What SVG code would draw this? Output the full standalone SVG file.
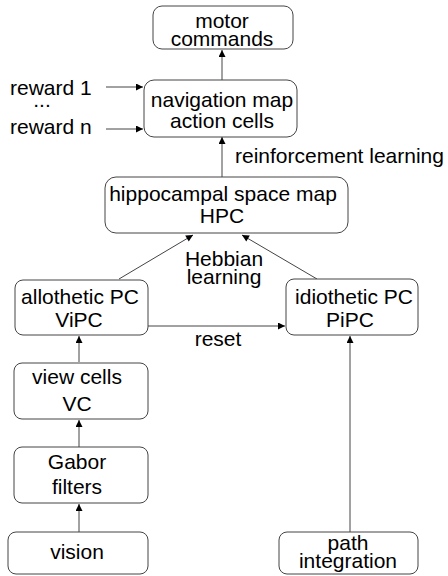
<svg xmlns="http://www.w3.org/2000/svg" width="448" height="576" viewBox="0 0 448 576">
<style>
.box{fill:#fff;stroke:#444;stroke-width:1}
.t{font-family:"Liberation Sans",Arial,sans-serif;font-size:21px;fill:#000;text-anchor:middle}
.tl{font-family:"Liberation Sans",Arial,sans-serif;font-size:21px;fill:#000}
.c{stroke:#444;stroke-width:1;fill:none;marker-end:url(#ah)}
</style>
<defs>
<marker id="ah" viewBox="0 0 10 10" refX="10" refY="5" markerWidth="9" markerHeight="7" markerUnits="userSpaceOnUse" orient="auto">
<path d="M0,0 L10,5 L0,10 z" fill="#000"/>
</marker>
</defs>
<rect width="448" height="576" fill="#fff"/>
<g id="connectors">
<line class="c" x1="222" y1="80" x2="222" y2="50"/>
<line class="c" x1="222" y1="177" x2="222" y2="137"/>
<line class="c" x1="106" y1="87" x2="143" y2="87"/>
<line class="c" x1="106" y1="129" x2="143" y2="129"/>
<line class="c" x1="119" y1="279" x2="193" y2="235"/>
<line class="c" x1="317" y1="279" x2="242" y2="235"/>
<line class="c" x1="148" y1="326" x2="285" y2="326"/>
<line class="c" x1="79" y1="362" x2="79" y2="336"/>
<line class="c" x1="79" y1="447" x2="79" y2="420"/>
<line class="c" x1="79" y1="532" x2="79" y2="504"/>
<line class="c" x1="350" y1="532" x2="350" y2="336"/>
</g>
<g id="labels">
<text class="tl" x="235" y="163">reinforcement learning</text>
<text class="t" x="224" y="266">Hebbian</text>
<text class="t" x="224" y="284">learning</text>
<text class="t" x="218" y="346">reset</text>
<text class="tl" x="10" y="95">reward 1</text>
<text class="t" x="42" y="107">...</text>
<text class="tl" x="10" y="134">reward n</text>
</g>
<g id="motor">
<rect class="box" x="153" y="6" width="140" height="43" rx="9"/>
<text class="t" x="222" y="28">motor</text>
<text class="t" x="222" y="46">commands</text>
</g>
<g id="navigation">
<rect class="box" x="144" y="80" width="153" height="57" rx="10"/>
<text class="t" x="222" y="107">navigation map</text>
<text class="t" x="222" y="128">action cells</text>
</g>
<g id="hpc">
<rect class="box" x="105" y="177" width="243" height="56" rx="11"/>
<text class="t" x="223" y="201">hippocampal space map</text>
<text class="t" x="222" y="223">HPC</text>
</g>
<g id="vipc">
<rect class="box" x="15" y="280" width="133" height="55" rx="8"/>
<text class="t" x="80" y="304">allothetic PC</text>
<text class="t" x="79" y="327">ViPC</text>
</g>
<g id="pipc">
<rect class="box" x="286" y="279" width="132" height="56" rx="8"/>
<text class="t" x="354" y="304">idiothetic PC</text>
<text class="t" x="350" y="327">PiPC</text>
</g>
<g id="viewcells">
<rect class="box" x="14" y="363" width="134" height="56" rx="8"/>
<text class="t" x="77" y="384">view cells</text>
<text class="t" x="77" y="411">VC</text>
</g>
<g id="gabor">
<rect class="box" x="14" y="447" width="134" height="56" rx="8"/>
<text class="t" x="77" y="469">Gabor</text>
<text class="t" x="77" y="494">filters</text>
</g>
<g id="vision">
<rect class="box" x="8" y="532" width="140" height="42" rx="8"/>
<text class="t" x="77" y="559">vision</text>
</g>
<g id="path">
<rect class="box" x="279" y="532" width="139" height="42" rx="8"/>
<text class="t" x="348" y="550">path</text>
<text class="t" x="348" y="568">integration</text>
</g>
</svg>
